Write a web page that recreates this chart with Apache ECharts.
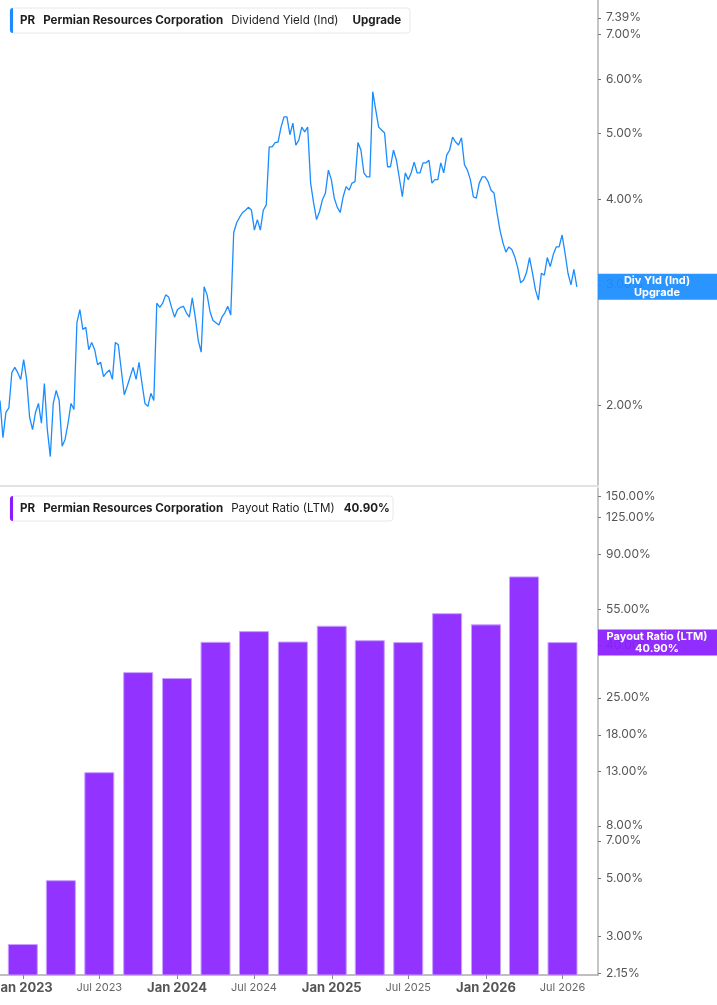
<!DOCTYPE html>
<html>
<head>
<meta charset="utf-8">
<script src="https://cdn.jsdelivr.net/npm/echarts@6/dist/echarts.min.js"></script>
<style>
html, body { margin: 0; padding: 0; background: #fff; }
#main { width: 717px; height: 1005px; }
</style>
</head>
<body>
<div id="main"></div>
<script>
// Dividend yield (Ind), weekly readings, %
var yieldStart = new Date(2022, 10, 8).getTime();
var yieldStepDays = 7;
var yieldValues = [
    2.03, 1.79, 1.95, 1.98, 2.23, 2.27, 2.23, 2.18, 2.33, 2.18,
    1.92, 1.84, 1.95, 2.01, 1.88, 2.15, 1.84, 1.68, 2.01, 2.10,
    2.03, 1.74, 1.78, 1.88, 2.01, 1.97, 2.64, 2.76, 2.58, 2.60,
    2.41, 2.47, 2.41, 2.29, 2.31, 2.20, 2.23, 2.25, 2.18, 2.47,
    2.45, 2.25, 2.07, 2.13, 2.20, 2.27, 2.18, 2.31, 2.15, 2.01,
    1.99, 2.08, 2.03, 2.82, 2.78, 2.82, 2.90, 2.88, 2.78, 2.69,
    2.76, 2.78, 2.79, 2.73, 2.69, 2.87, 2.69, 2.49, 2.39, 2.98,
    2.90, 2.74, 2.66, 2.64, 2.62, 2.69, 2.73, 2.79, 2.71, 3.58,
    3.70, 3.77, 3.83, 3.86, 3.90, 3.86, 3.61, 3.74, 3.61, 3.86,
    3.93, 4.78, 4.78, 4.85, 4.86, 5.11, 5.29, 5.29, 4.98, 5.18,
    4.81, 4.89, 5.11, 5.03, 5.11, 4.23, 3.96, 3.74, 3.84, 4.00,
    4.09, 4.42, 4.28, 4.02, 3.90, 3.83, 4.04, 4.18, 4.13, 4.23,
    4.25, 4.85, 4.73, 4.38, 4.32, 4.32, 5.76, 5.42, 5.11, 5.06,
    5.01, 4.47, 4.47, 4.73, 4.57, 4.30, 4.04, 4.38, 4.28, 4.38,
    4.54, 4.38, 4.38, 4.53, 4.53, 4.57, 4.23, 4.28, 4.28, 4.53,
    4.38, 4.65, 4.73, 4.94, 4.86, 4.81, 4.93, 4.50, 4.42, 4.28,
    4.04, 4.02, 4.23, 4.32, 4.32, 4.25, 4.13, 4.09, 3.83, 3.61,
    3.46, 3.35, 3.41, 3.38, 3.30, 3.18, 3.02, 3.05, 3.13, 3.29,
    3.12, 2.95, 2.85, 3.12, 3.10, 3.29, 3.19, 3.32, 3.41, 3.41,
    3.55, 3.34, 3.12, 3.00, 3.16, 2.98
];

// Payout ratio (LTM), quarterly, %
var payoutDates = [
    '2023-01-01', '2023-04-01', '2023-07-01', '2023-10-01',
    '2024-01-01', '2024-04-01', '2024-07-01', '2024-10-01',
    '2025-01-01', '2025-04-01', '2025-07-01', '2025-10-01',
    '2026-01-01', '2026-04-01', '2026-07-01'
];
var payoutValues = [2.78, 4.91, 12.84, 31.3, 29.7, 41.0, 45.1, 41.1, 47.3, 41.6, 40.9, 52.9, 47.9, 73.4, 40.9];

// tick labels
var yieldTicks = [2, 3, 4, 5, 6, 7, 7.39];
var payoutTicks = [2.15, 3, 5, 7, 8, 13, 18, 25, 40, 55, 90, 125, 150];
var dateTicks = ['2023-01-01', '2023-07-01', '2024-01-01', '2024-07-01', '2025-01-01', '2025-07-01', '2026-01-01', '2026-07-01'];

var BLUE = '#1a8cff';
var PURPLE = '#9233ff';
var PURPLE_DARK = '#8a1dff';
var BAR_W = 29;

function toTs(s) {
    var p = s.split('-');
    return new Date(+p[0], +p[1] - 1, +p[2]).getTime();
}

var yieldData = [];
for (var i = 0; i < yieldValues.length; i++) {
    yieldData.push([yieldStart + i * yieldStepDays * 86400000, yieldValues[i]]);
}
var payoutData = [];
for (var j = 0; j < payoutValues.length; j++) {
    payoutData.push([toTs(payoutDates[j]), payoutValues[j]]);
}
var dateTickTs = dateTicks.map(toTs);

var xMin = new Date(2022, 10, 8).getTime();
var xMax = new Date(2026, 8, 23).getTime();
var months = ['Jan', 'Feb', 'Mar', 'Apr', 'May', 'Jun', 'Jul', 'Aug', 'Sep', 'Oct', 'Nov', 'Dec'];

function pct(v) {
    return Number(v).toFixed(2) + '%';
}

function yAxisFor(idx, min, max, ticks) {
    return {
        type: 'log',
        gridIndex: idx,
        position: 'right',
        min: min,
        max: max,
        axisLine: { show: true, lineStyle: { color: '#b3b3b3', width: 1.5 } },
        axisTick: { show: true, length: 3, customValues: ticks, lineStyle: { color: '#777' } },
        axisLabel: {
            customValues: ticks,
            margin: 8,
            color: '#555',
            fontSize: 12,
            fontFamily: 'Inter',
            formatter: pct
        },
        splitLine: { show: false }
    };
}

// legend box at the top of each panel
function headerBox(y, width, color, parts) {
    var rich = {};
    var txt = parts.map(function (p, k) {
        rich['p' + k] = {
            fontFamily: 'Inter', fontSize: 11.6, fill: '#1f1f1f',
            fontWeight: p.bold ? 'bold' : 'normal',
            padding: [0, p.gap || 0, 0, 0]
        };
        return '{p' + k + '|' + p.text + '}';
    }).join('');
    return {
        type: 'group',
        children: [
            { type: 'rect', z: 100, shape: { x: 10, y: y, width: width, height: 25, r: 3 },
              style: { fill: '#fff', stroke: '#e8e8e8', lineWidth: 1 } },
            { type: 'rect', z: 101, shape: { x: 10, y: y, width: 3, height: 25, r: [3, 0, 0, 3] },
              style: { fill: color } },
            { type: 'text', z: 101, x: 20, y: y + 12.5,
              style: { text: txt, verticalAlign: 'middle', rich: rich } }
        ]
    };
}

var myChart = echarts.init(document.getElementById('main'));

var option = {
    animation: false,
    backgroundColor: '#fff',
    grid: [
        { left: 0, right: 119, top: 0, height: 486, outerBoundsMode: 'none', containLabel: false },
        { left: 0, right: 119, top: 488, bottom: 30, outerBoundsMode: 'none', containLabel: false }
    ],
    xAxis: [
        {
            // dates as millisecond numbers on a plain value scale
            type: 'value', gridIndex: 0, min: xMin, max: xMax,
            axisLine: { show: true, lineStyle: { color: '#e2e2e2', width: 2 } },
            axisTick: { show: false }, axisLabel: { show: false },
            splitLine: { show: false }
        },
        {
            type: 'value', gridIndex: 1, min: xMin, max: xMax,
            axisLine: { show: true, lineStyle: { color: '#aaaaaa', width: 1.5 } },
            axisTick: { show: true, length: 4, customValues: dateTickTs, lineStyle: { color: '#888' } },
            axisLabel: {
                customValues: dateTickTs,
                margin: 7,
                formatter: function (v) {
                    var d = new Date(v);
                    var t = months[d.getMonth()] + ' ' + d.getFullYear();
                    return d.getMonth() === 0 ? '{b|' + t + '}' : '{n|' + t + '}';
                },
                rich: {
                    b: { fontFamily: 'Inter', fontSize: 13, fontWeight: 'bold', color: '#555' },
                    n: { fontFamily: 'Inter', fontSize: 11, color: '#666' }
                }
            },
            splitLine: { show: false }
        }
    ],
    yAxis: [
        yAxisFor(0, 1.521, 7.85, yieldTicks),
        yAxisFor(1, 2.12, 162, payoutTicks)
    ],
    series: [
        {
            name: 'Div Yld (Ind)',
            type: 'line',
            xAxisIndex: 0, yAxisIndex: 0,
            data: yieldData,
            showSymbol: false,
            lineStyle: { color: BLUE, width: 1.3 },
            itemStyle: { color: BLUE }
        },
        {
            // columns rise from the axis bottom
            name: 'Payout Ratio (LTM)',
            type: 'custom',
            xAxisIndex: 1, yAxisIndex: 1,
            data: payoutData,
            encode: { x: 0, y: 1 },
            clip: true,
            renderItem: function (params, api) {
                var top = api.coord([api.value(0), api.value(1)]);
                var base = params.coordSys.y + params.coordSys.height;
                return {
                    type: 'rect',
                    shape: { x: top[0] - BAR_W / 2, y: top[1], width: BAR_W, height: base - top[1] },
                    style: { fill: PURPLE, stroke: '#c9a0ff', lineWidth: 1 }
                };
            }
        }
    ]
};
myChart.setOption(option);

// last-value tags on the right axis
var lastYield = yieldData[yieldData.length - 1];
var lastPayout = payoutData[payoutData.length - 1];
var yTag1 = myChart.convertToPixel({ xAxisIndex: 0, yAxisIndex: 0 }, lastYield)[1];
var yTag2 = myChart.convertToPixel({ xAxisIndex: 1, yAxisIndex: 1 }, lastPayout)[1];

function valueTag(cy, color, line1, line2) {
    var st = { fill: '#fff', fontFamily: 'Inter', fontSize: 11, fontWeight: 'bold', align: 'center', verticalAlign: 'middle' };
    return {
        type: 'group',
        children: [
            { type: 'rect', z: 100, shape: { x: 598, y: cy - 13, width: 119, height: 26 }, style: { fill: color, opacity: 0.93 } },
            { type: 'text', z: 101, x: 657, y: cy - 6, style: Object.assign({ text: line1 }, st) },
            { type: 'text', z: 101, x: 657, y: cy + 6, style: Object.assign({ text: line2 }, st) }
        ]
    };
}

myChart.setOption({
    graphic: [
        headerBox(8, 400, BLUE, [
            { text: 'PR', bold: true, gap: 8 },
            { text: 'Permian Resources Corporation', bold: true, gap: 8 },
            { text: 'Dividend Yield (Ind)', bold: false, gap: 14 },
            { text: 'Upgrade', bold: true }
        ]),
        headerBox(496, 383, PURPLE_DARK, [
            { text: 'PR', bold: true, gap: 8 },
            { text: 'Permian Resources Corporation', bold: true, gap: 8 },
            { text: 'Payout Ratio (LTM)', bold: false, gap: 9 },
            { text: pct(lastPayout[1]), bold: true }
        ]),
        valueTag(yTag1, BLUE, 'Div Yld (Ind)', 'Upgrade'),
        valueTag(yTag2, PURPLE_DARK, 'Payout Ratio (LTM)', pct(lastPayout[1]))
    ]
});
</script>
</body>
</html>
